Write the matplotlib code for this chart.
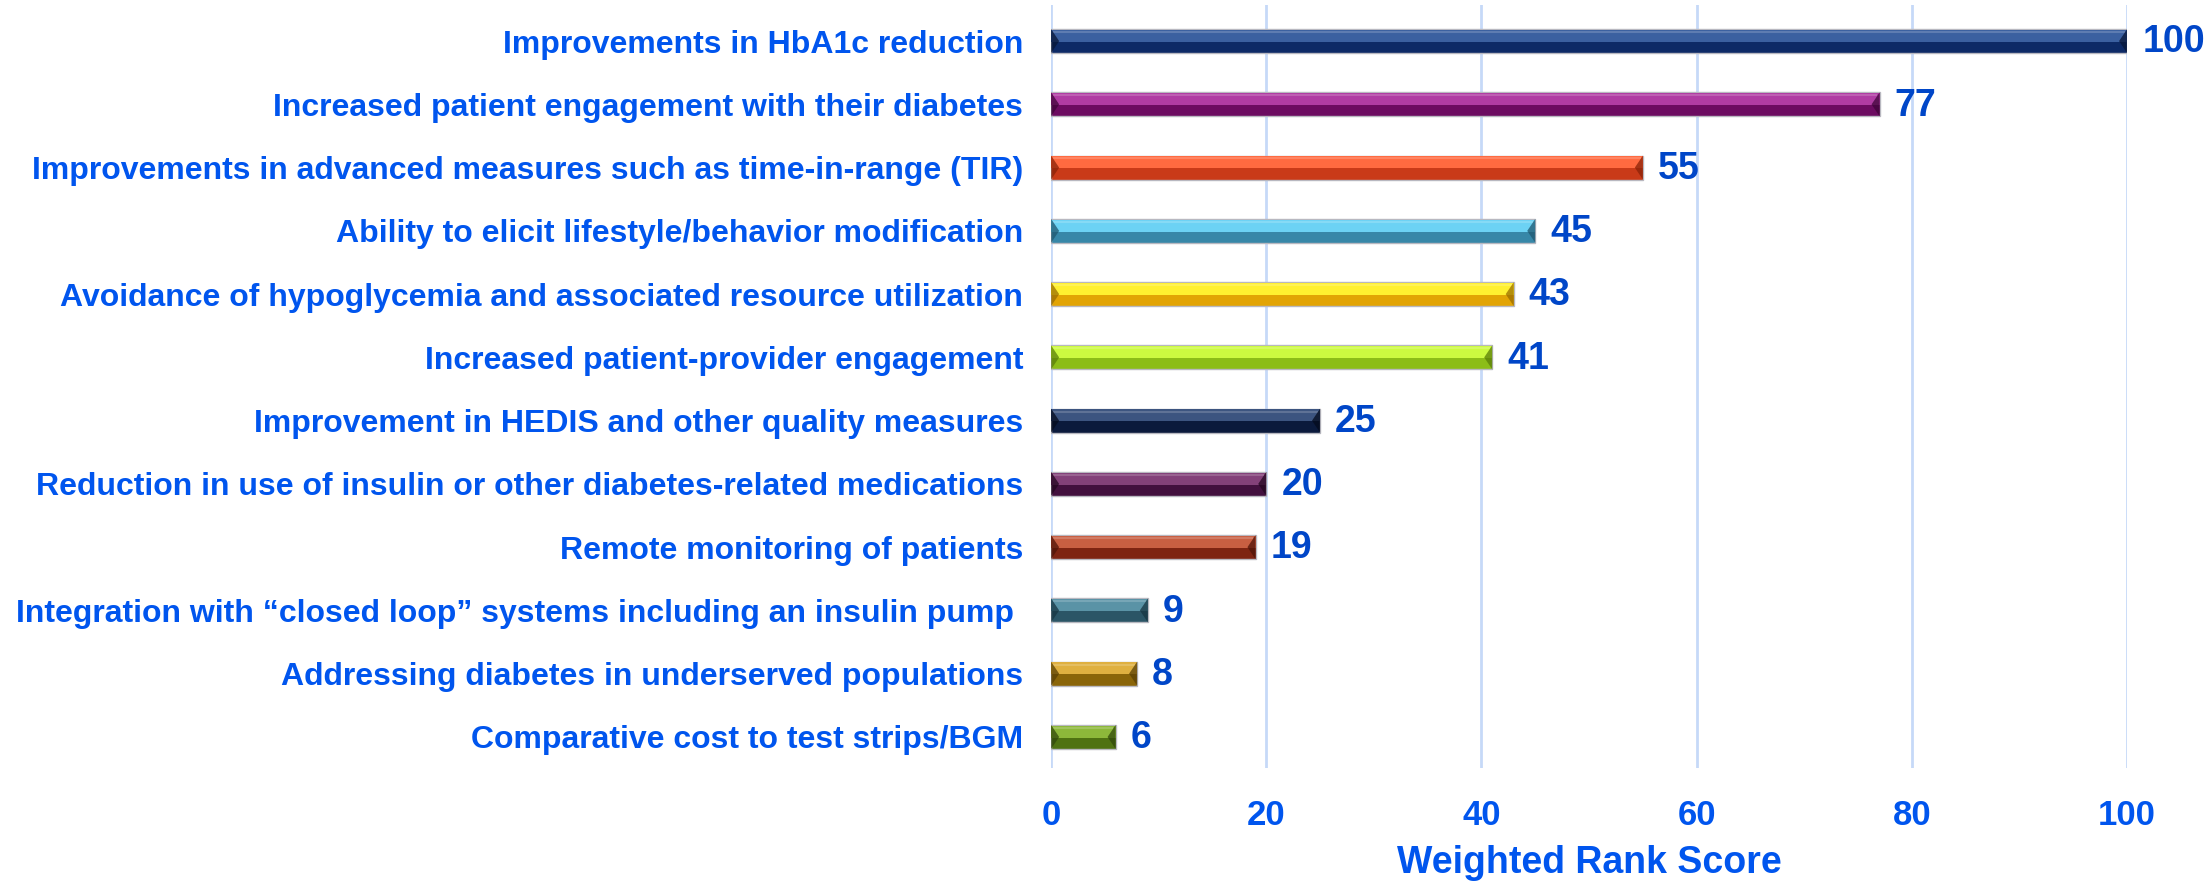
import numpy as np
import matplotlib.pyplot as plt
from matplotlib.patches import Polygon

# данные
labels = [
    'Improvements in HbA1c reduction',
    'Increased patient engagement with their diabetes',
    'Improvements in advanced measures such as time-in-range (TIR)',
    'Ability to elicit lifestyle/behavior modification',
    'Avoidance of hypoglycemia and associated resource utilization',
    'Increased patient-provider engagement',
    'Improvement in HEDIS and other quality measures',
    'Reduction in use of insulin or other diabetes-related medications',
    'Remote monitoring of patients',
    'Integration with \u201cclosed loop\u201d systems including an insulin pump ',
    'Addressing diabetes in underserved populations',
    'Comparative cost to test strips/BGM',
]
scores = [100, 77, 55, 45, 43, 41, 25, 20, 19, 9, 8, 6]

# нижняя (тёмная) и верхняя (светлая) половины полос
dark_colors = ['#0d2a66', '#6c0b61', '#c93a18', '#3787a8', '#e2a404', '#8cbd17',
               '#0b1a3c', '#42103e', '#7e2412', '#2b5566', '#8a6509', '#4f7212']
light_colors = ['#3b60a0', '#b03ca3', '#ff6a40', '#6cd2f4', '#fff030', '#ccfa40',
                '#3c5480', '#834179', '#c85f42', '#5a93a6', '#dfb040', '#8db83a']
edge_dark = ['#071637', '#3f0439', '#8a2308', '#1f5870', '#9a6d00', '#5a7e08',
             '#040b1d', '#22061f', '#4f1408', '#183642', '#5a4004', '#31480a']

label_color = '#0055ee'
value_color = '#0046c8'
grid_color = '#c6d9f8'

plt.rcParams['font.family'] = ['Liberation Sans', 'DejaVu Sans']

fig = plt.figure(figsize=(22.1, 8.82), dpi=100)
ax = fig.add_axes([0.4756, 0.1293, 0.4869, 0.8650])

y = np.arange(len(scores))
h = 0.38
bev = 0.75  # ширина скоса в единицах данных

for i, v in enumerate(scores):
    top, bot = y[i] - h / 2, y[i] + h / 2
    # основа полосы
    ax.barh(y[i], v, height=h, color=dark_colors[i], edgecolor='#b8b8c0',
            linewidth=1.0, zorder=3)
    # светлая верхняя часть
    ax.barh(y[i] - h * 0.22, v, height=h * 0.5, color=light_colors[i],
            linewidth=0, zorder=4)
    # блик у верхнего края
    ax.plot([0.2, v - 0.2], [top + h * 0.12, top + h * 0.12], color='white',
            alpha=0.18, lw=1.5, zorder=5, solid_capstyle='butt')
    # скосы на концах
    ax.add_patch(Polygon([(0, top), (bev, y[i]), (0, bot)], closed=True,
                         facecolor=edge_dark[i], alpha=0.75, lw=0, zorder=5))
    ax.add_patch(Polygon([(v, top), (v - bev, y[i]), (v, bot)], closed=True,
                         facecolor=edge_dark[i], alpha=0.75, lw=0, zorder=5))
    ax.text(v + 1.4, y[i] + 0.02, str(v), va='center', ha='left', fontsize=27,
            fontweight='bold', color=value_color, zorder=6)

ax.set_xlim(0, 100)
ax.set_ylim(11.49, -0.57)
ax.set_xticks([0, 20, 40, 60, 80, 100])
ax.set_yticks(y)
ax.set_yticklabels(labels, fontsize=23, fontweight='bold', color=label_color)
ax.tick_params(axis='y', length=0, pad=20)
ax.tick_params(axis='x', length=0, pad=22, labelsize=25, labelcolor=label_color)
for t in ax.get_xticklabels():
    t.set_fontweight('bold')

ax.grid(axis='x', color=grid_color, linewidth=2, zorder=0)
ax.set_axisbelow(True)
for s in ax.spines.values():
    s.set_visible(False)

ax.set_xlabel('Weighted Rank Score', fontsize=27, fontweight='bold',
              color=label_color, labelpad=10)

fig.savefig('out.png', dpi=100, facecolor='white')
